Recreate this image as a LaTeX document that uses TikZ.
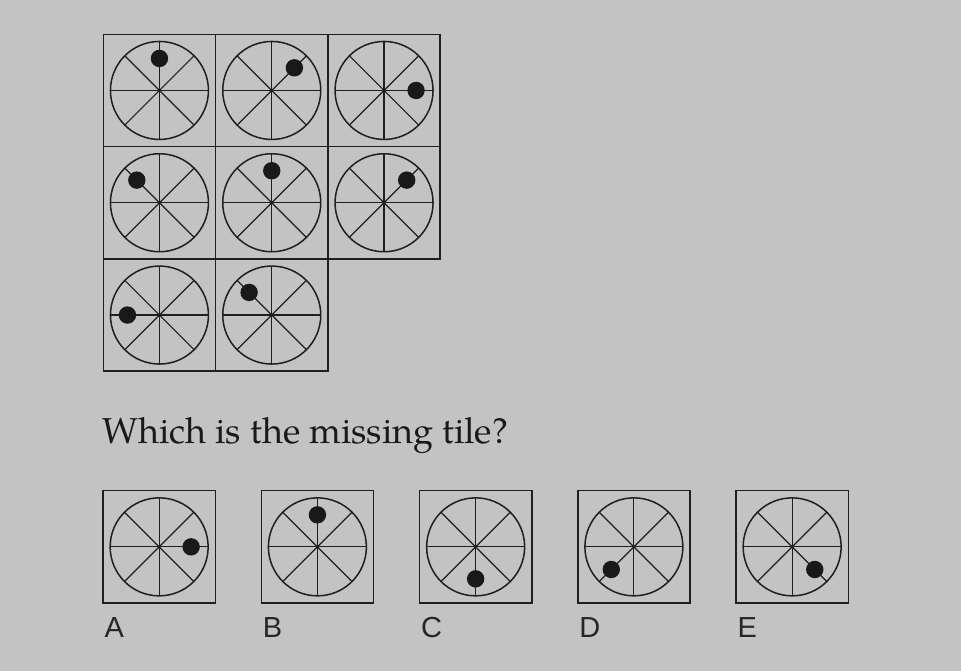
\documentclass[tikz,border=0pt]{standalone}
\usepackage{fontspec}
\newfontfamily\labfont{Liberation Sans}
\newfontfamily\pagfont{TeX Gyre Pagella}
\begin{document}
\begin{tikzpicture}[x=1pt,y=-1pt,
  ink/.style={draw=black!88},
  tilebox/.style={ink,line width=1.5pt},
  rim/.style={ink,line width=1.5pt},
  spoke/.style={ink,line width=1.15pt},
  wheel/.pic={
    \draw[rim] (0,0) circle[radius=49];
    \foreach \a in {0,45,...,315} \draw[spoke] (0,0) -- (\a:49);
    \fill[black!88] (0,0) circle[radius=1.8];
    \fill[black!90] (-#1:32) circle[radius=8.7];
  },
  lab/.style={anchor=base west,inner sep=0pt,font=\labfont\fontsize{29}{32}\selectfont,text=black!85}
]
\useasboundingbox (0,0) rectangle (961,671);
\fill[fill={rgb,255:red,195;green,195;blue,195}] (0,0) rectangle (961,671);
% grid tiles
\foreach \i/\j/\ang in {0/0/90,1/0/45,2/0/0,0/1/135,1/1/90,2/1/45,0/2/180,1/2/135}{
  \draw[tilebox] (103.3+112.3*\i,34.3+112.3*\j) rectangle ++(112.3,112.3);
  \pic at (159.45+112.3*\i,90.45+112.3*\j) {wheel=\ang};
}
% question
\node[anchor=base west,inner sep=0pt,text=black!90] (q) at (102,443.3)
  {\pagfont\fontsize{36}{40}\selectfont Which is the missing tile?};
% options
\foreach \k/\L/\ang in {0/A/0,1/B/90,2/C/270,3/D/225,4/E/315}{
  \draw[tilebox] (103+158.25*\k,490.7) rectangle ++(112.3,112.3);
  \pic at (159.15+158.25*\k,546.85) {wheel=\ang};
  \node[lab] (l\L) at (104.5+158.25*\k,637.7) {\L};
}
\end{tikzpicture}
\end{document}
